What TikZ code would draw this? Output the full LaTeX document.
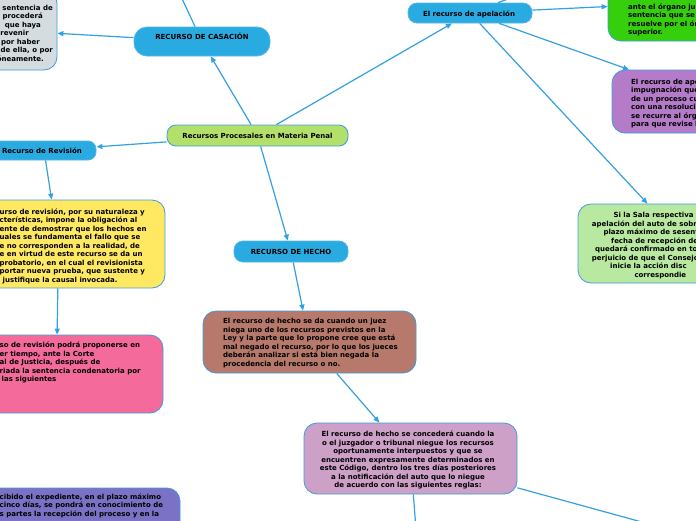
\documentclass[tikz,border=0pt]{standalone}
\usepackage{fontspec}
\setmainfont{DejaVu Sans}
\usetikzlibrary{arrows.meta}
\definecolor{linec}{HTML}{33A0E0}
\definecolor{pillc}{HTML}{29ABE2}
\definecolor{pillb}{HTML}{55B5EA}
\definecolor{boxb}{HTML}{3D9BE0}
\definecolor{mainc}{HTML}{B3E06A}
\definecolor{grayc}{HTML}{D5DCDF}
\definecolor{greenc}{HTML}{35D00B}
\definecolor{purpc}{HTML}{B47BC8}
\definecolor{lgreenc}{HTML}{B9E9A0}
\definecolor{yelc}{HTML}{FFE862}
\definecolor{pinkc}{HTML}{F46B9B}
\definecolor{brownc}{HTML}{B6796B}
\definecolor{lilacc}{HTML}{CDA0C7}
\definecolor{bpurpc}{HTML}{7B72C5}
\newcommand{\fs}{\rule{0pt}{6pt}}
\newcommand{\sk}[1]{\rule{#1pt}{0pt}}
\begin{document}
\begin{tikzpicture}[x=1pt,y=-1pt,
  bigbox/.style={draw=boxb, line width=0.8pt, rounded corners=13pt, inner sep=0pt},
  pill/.style={draw=pillb, fill=pillc, line width=0.8pt, inner sep=0pt},
  txt/.style={font=\bfseries\fontsize{7}{8.5}\selectfont, inner sep=0pt, text=black},
  conn/.style={draw=linec, line width=1.2pt, -{Triangle[length=6pt,width=5pt]}}]
\useasboundingbox (0,0) rectangle (696,520);
\clip (0,0) rectangle (696,520);

% boxes
\node[bigbox, fill=grayc, minimum width=117pt, minimum height=80pt] (gray) at (-1.5,30) {};
\node[pill, rounded corners=13pt, minimum width=136pt, minimum height=29pt] (cas) at (202,41.5) {};
\node[pill, draw=boxb, fill=mainc, rounded corners=9pt, minimum width=181pt, minimum height=21pt] (main) at (257.5,135.5) {};
\node[pill, rounded corners=8pt, minimum width=104pt, minimum height=19pt] (rev) at (44,150.5) {};
\node[pill, rounded corners=9pt, minimum width=124pt, minimum height=20pt] (ape) at (470,13) {};
\node[bigbox, fill=greenc, minimum width=192pt, minimum height=78pt] (green) at (704,2) {};
\node[bigbox, fill=purpc, minimum width=213pt, minimum height=63pt] (purp) at (718.5,101.5) {};
\node[bigbox, fill=lgreenc, minimum width=213pt, minimum height=79pt] (lgreen) at (684.5,243.5) {};
\node[bigbox, fill=yelc, minimum width=213pt, minimum height=88pt] (yel) at (58.5,244) {};
\node[bigbox, fill=pinkc, minimum width=213pt, minimum height=78pt] (pink) at (56.5,374) {};
\node[pill, rounded corners=9pt, minimum width=114pt, minimum height=21pt] (hecho) at (291,251.5) {};
\node[bigbox, fill=brownc, minimum width=213pt, minimum height=62pt] (brown) at (309.5,342) {};
\node[bigbox, fill=lilacc, minimum width=213pt, minimum height=71pt] (lilac) at (410.5,458.5) {};
\node[bigbox, fill=bpurpc, minimum width=213pt, minimum height=72pt] (bpurp) at (73.5,524) {};

\coordinate (casup) at (150,-70);
\coordinate (apeup) at (600,-35);
\coordinate (lildown) at (420,580);
\coordinate (lilright) at (700,538);

% connectors
\draw[conn] (main) -- (cas);
\draw[conn] (cas) -- (gray);
\draw[conn] (cas) -- (casup);
\draw[conn] (main) -- (rev);
\draw[conn] (main) -- (ape);
\draw[conn] (main) -- (hecho);
\draw[conn] (rev) -- (yel);
\draw[conn] (yel) -- (pink);
\draw[conn] (hecho) -- (brown);
\draw[conn] (brown) -- (lilac);
\draw[conn] (lilac) -- (lildown);
\draw[conn] (lilac) -- (lilright);
\draw[conn] (ape) -- (green);
\draw[conn] (ape) -- (purp);
\draw[conn] (ape) -- (lgreen);
\draw[conn] (ape) -- (apeup);

% texts
\node[txt, anchor=base] (cast) at (202,39.8) {RECURSO DE CASACIÓN};
\node[txt, anchor=base] (maint) at (257.5,138) {Recursos Procesales en Materia Penal};
\node[txt, anchor=base] (revt) at (42,153.5) {Recurso de Revisión};
\node[txt, anchor=base] (apet) at (469,16) {El recurso de apelación};
\node[txt, anchor=base] (hechot) at (291,254.5) {RECURSO DE HECHO};

\node[txt, anchor=north east, align=right] (grayt) at (53,4) {\fs sentencia de\\ procederá\sk{10}\\ que haya\sk{12}\\ sobrevenir\sk{24}\\ por haber\sk{13}\\ de ella, o por\\ erróneamente.\sk{9}};

\node[txt, anchor=north west, align=left] (greent) at (628,3.2) {\fs ante el órgano jur\\ sentencia que se i\\ resuelve por el órg\\ superior.};

\node[txt, anchor=north west, align=left] (purpt) at (631,78) {\fs El recurso de apel\\ impugnación que s\\ de un proceso cua\\ con una resolució\\ se recurre al órga\\ para que revise la};

\node[txt, anchor=north west, align=left] (lgreent) at (591.7,211.5) {\fs\sk{21.6}Si la Sala respectiva\\ apelación del auto de sobr\\ \sk{11.6}plazo máximo de sesent\\ \sk{19.3}fecha de recepción del\\ \sk{3.3}quedará confirmado en tod\\ perjuicio de que el Consejo\\ \sk{18.3}inicie la acción disc\\ \sk{42.6}correspondie};

\node[txt, anchor=north west, align=left] (yelt) at (-0.5,207.8) {\fs urso de revisión, por su naturaleza y\\ cterísticas, impone la obligación al\\ ente de demostrar que los hechos en\\ uales se fundamenta el fallo que se\\ e no corresponden a la realidad, de\\ e en virtud de este recurso se da un\\ probatorio, en el cual el revisionista\\ portar nueva prueba, que sustente y\\ \sk{3}justifique la causal invocada.};

\node[txt, anchor=north west, align=left] (pinkt) at (-0.5,341.5) {\fs so de revisión podrá proponerse en\\ er tiempo, ante la Corte\\ al de Justicia, después de\\ riada la sentencia condenatoria por\\ \sk{2}las siguientes};

\node[txt, anchor=north west, align=left] (brownt) at (223,317.5) {\fs El recurso de hecho se da cuando un juez\\ niega uno de los recursos previstos en la\\ Ley y la parte que lo propone cree que está\\ mal negado el recurso, por lo que los jueces\\ deberán analizar si está bien negada la\\ procedencia del recurso o no.};

\node[txt, anchor=north, align=center] (lilact) at (408,430.5) {\fs El recurso de hecho se concederá cuando la\\ o el juzgador o tribunal niegue los recursos\\ oportunamente interpuestos y que se\\ encuentren expresamente determinados en\\ este Código, dentro los tres días posteriores\\ a la notificación del auto que lo niegue\\ de acuerdo con las siguientes reglas:};

\node[txt, anchor=north west, align=left] (bpurpt) at (-0.5,493) {\fs cibido el expediente, en el plazo máximo\\ cinco días, se pondrá en conocimiento de\\ s partes la recepción del proceso y en la};
\end{tikzpicture}
\end{document}
